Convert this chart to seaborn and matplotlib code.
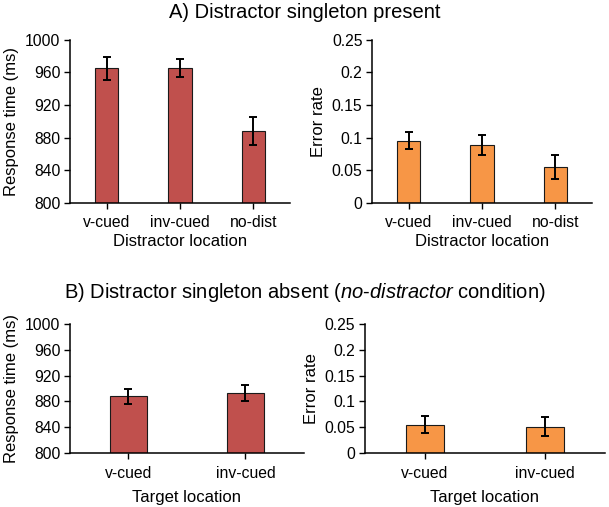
import pandas as pd
import matplotlib
matplotlib.use('Agg')
import matplotlib.pyplot as plt
import seaborn as sns

# values
present_locs = ['v-cued', 'inv-cued', 'no-dist']
present_rt = [965, 965, 888]
present_rt_err = [14, 11, 17]
present_er = [0.095, 0.089, 0.055]
present_er_err = [0.013, 0.015, 0.018]

absent_locs = ['v-cued', 'inv-cued']
absent_rt = [888, 893]
absent_rt_err = [12, 12]
absent_er = [0.055, 0.051]
absent_er_err = [0.017, 0.018]

rt_ticks = [800, 840, 880, 920, 960, 1000]
er_ticks = [0, 0.05, 0.1, 0.15, 0.2, 0.25]
er_ticklabels = ['0', '0.05', '0.1', '0.15', '0.2', '0.25']

RED = '#C0504D'
ORANGE = '#F79646'

sns.set_style('ticks')
plt.rcParams['font.family'] = ['Liberation Sans', 'DejaVu Sans']
plt.rcParams['mathtext.fontset'] = 'custom'
plt.rcParams['mathtext.rm'] = 'Liberation Sans'
plt.rcParams['mathtext.it'] = 'Liberation Sans:italic'
plt.rcParams['text.color'] = 'black'
plt.rcParams['axes.labelcolor'] = 'black'
plt.rcParams['xtick.color'] = 'black'
plt.rcParams['ytick.color'] = 'black'

fig = plt.figure(figsize=(6.09, 5.07), dpi=100)

ax_tl = fig.add_axes([0.115, 0.600, 0.361, 0.3215])
ax_tr = fig.add_axes([0.611, 0.600, 0.361, 0.3215])
ax_bl = fig.add_axes([0.115, 0.1065, 0.384, 0.254])
ax_br = fig.add_axes([0.599, 0.1065, 0.394, 0.254])


def draw(ax, locs, vals, errs, color, ylim, ticks, ticklabels, ylabel, xlabel, xpad):
    df = pd.DataFrame({'loc': locs, 'val': vals})
    sns.barplot(data=df, x='loc', y='val', color=color, width=0.32,
                edgecolor='#1a1a1a', linewidth=0.8, saturation=1,
                errorbar=None, ax=ax)
    ax.errorbar(range(len(locs)), vals, yerr=errs, fmt='none',
                ecolor='black', elinewidth=1.4, capsize=3, capthick=1.4)
    ax.set_ylim(*ylim)
    ax.set_xlim(-0.5, len(locs) - 0.5)
    ax.set_yticks(ticks)
    ax.set_yticklabels(ticklabels)
    ax.set_ylabel(ylabel, fontsize=12)
    ax.set_xlabel(xlabel, fontsize=12, labelpad=xpad)
    ax.tick_params(axis='both', labelsize=11.3, length=4, width=1, color='black',
                   labelcolor='black', pad=3)
    ax.tick_params(axis='x', pad=5)
    for s in ['left', 'bottom']:
        ax.spines[s].set_color('black')
        ax.spines[s].set_linewidth(1.1)
    sns.despine(ax=ax)


draw(ax_tl, present_locs, present_rt, present_rt_err, RED, (800, 1000),
     rt_ticks, [str(t) for t in rt_ticks], 'Response time (ms)', 'Distractor location', 3)
draw(ax_tr, present_locs, present_er, present_er_err, ORANGE, (0, 0.25),
     er_ticks, er_ticklabels, 'Error rate', 'Distractor location', 3)
draw(ax_bl, absent_locs, absent_rt, absent_rt_err, RED, (800, 1000),
     rt_ticks, [str(t) for t in rt_ticks], 'Response time (ms)', 'Target location', 7)
draw(ax_br, absent_locs, absent_er, absent_er_err, ORANGE, (0, 0.25),
     er_ticks, er_ticklabels, 'Error rate', 'Target location', 7)

fig.text(0.5, 0.976, 'A) Distractor singleton present', ha='center', va='center', fontsize=14.5)
fig.text(0.5, 0.424, r'B) Distractor singleton absent ($\mathit{no}$-$\mathit{distractor}$ condition)',
         ha='center', va='center', fontsize=14.5)

fig.savefig('out.png', dpi=100)
